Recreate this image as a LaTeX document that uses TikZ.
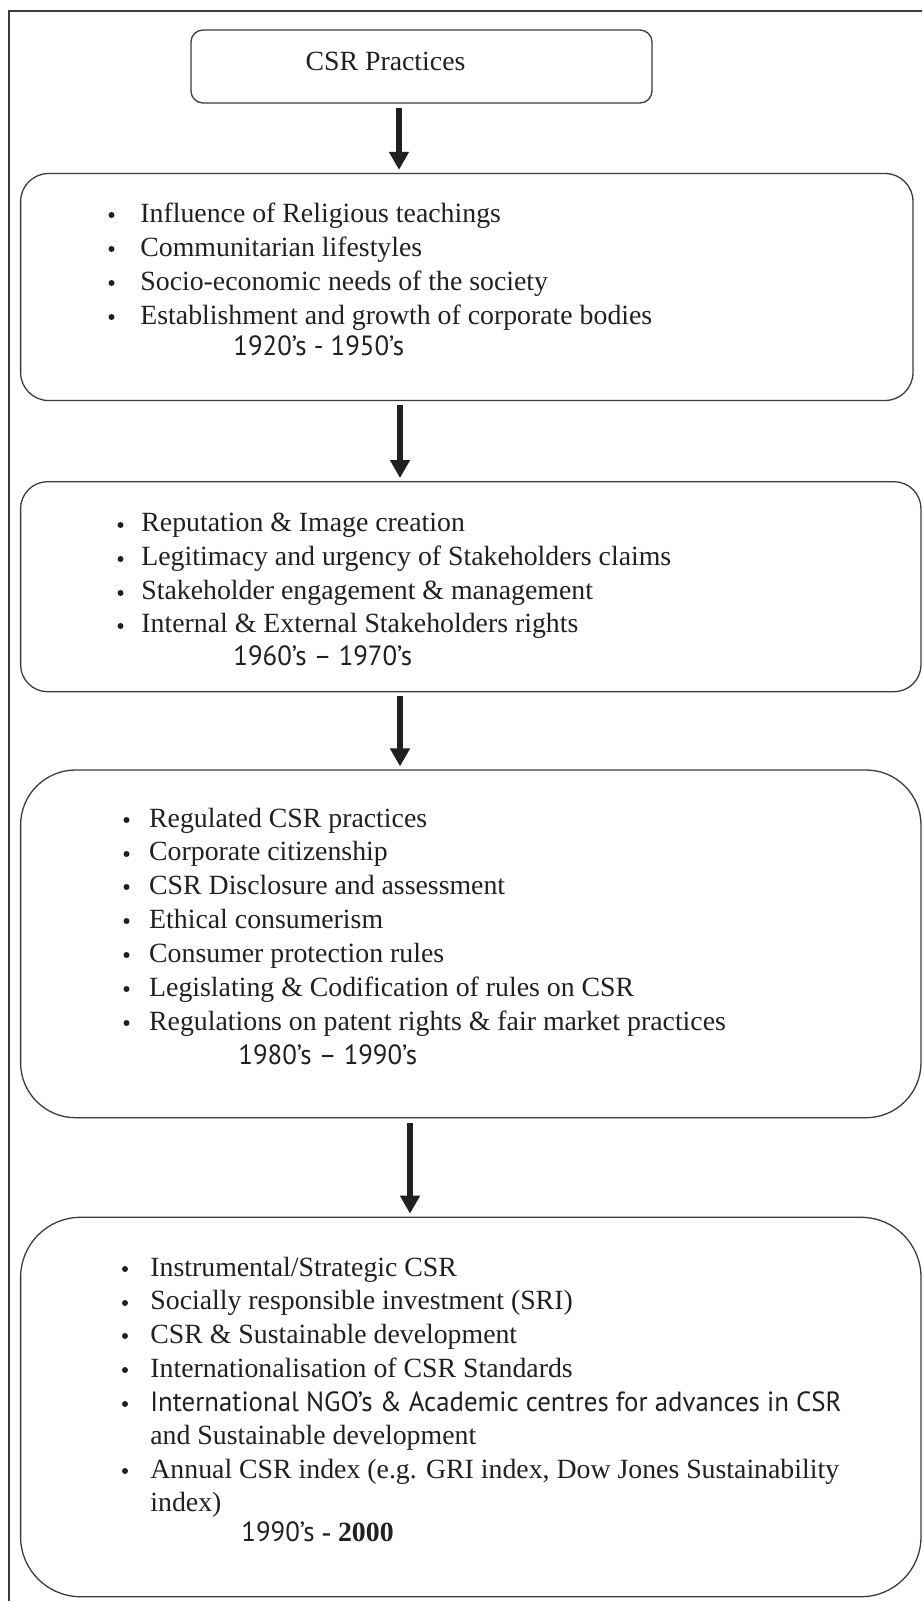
\documentclass[tikz,border=0pt]{standalone}
\usepackage{fontspec}
\setmainfont{Liberation Serif}
\newfontfamily\myr[FakeStretch=0.965]{PT Sans}
\usetikzlibrary{arrows.meta}
\definecolor{edge}{HTML}{3C3C3C}
\definecolor{ink}{HTML}{231F20}
\begin{document}
\begin{tikzpicture}[x=0.5pt,y=-0.5pt,
  font=\fontsize{13.9}{16.7}\selectfont,
  box/.style={draw=edge,line width=0.65pt,inner sep=0pt},
  txt/.style={anchor=base west,inner sep=0pt,text=ink},
  dat/.style={anchor=base west,inner sep=0pt,text=ink,font=\fontsize{13.9}{16.7}\myr},
  dot/.style={circle,fill=ink,inner sep=0pt,minimum size=3pt},
  arr/.style={draw=ink,line width=3.3pt,-{Triangle[length=9pt,width=9.5pt]},shorten <=2pt,shorten >=1.5pt}]
\useasboundingbox (0,0) rectangle (922,1601);
% outer frame
\draw[edge,line width=0.6pt] (9,1601) -- (9,11) -- (922,11);
% boxes
\node[box,rounded corners=6pt,minimum width=230.5pt,minimum height=36.5pt] (b1) at (421.5,66.5) {};
\node[box,rounded corners=14pt,minimum width=446.2pt,minimum height=113.5pt] (b2) at (466.8,287) {};
\node[box,rounded corners=13.5pt,minimum width=450.2pt,minimum height=105pt] (b3) at (470.8,586.7) {};
\node[box,rounded corners=27.5pt,minimum width=450.2pt,minimum height=173.85pt] (b4) at (470.8,943.85) {};
\node[box,rounded corners=30pt,minimum width=450.2pt,minimum height=189.7pt] (b5) at (470.8,1407) {};
% arrows
\coordinate (k1) at (399,0);
\coordinate (k2) at (400,0);
\coordinate (k3) at (400,0);
\coordinate (k4) at (410,0);
\draw[arr] (b1.south -| k1) -- (b2.north -| k1);
\draw[arr] (b2.south -| k2) -- (b3.north -| k2);
\draw[arr] (b3.south -| k3) -- (b4.north -| k3);
\draw[arr,shorten <=2.5pt] (b4.south -| k4) -- (b5.north -| k4);
% box 1
\node[inner sep=0pt,text=ink] (t1) at (385.5,61.7) {CSR Practices};
% box 2
\node[dot] (d21) at (111.5,215) {};
\node[dot] (d22) at (111.5,249) {};
\node[dot] (d23) at (111.5,283) {};
\node[dot] (d24) at (111.5,317) {};
\node[txt] (t21) at (140,222.3) {Influence of Religious teachings};
\node[txt] (t22) at (140,256.3) {Communitarian lifestyles};
\node[txt] (t23) at (140,290.7) {Socio-economic needs of the society};
\node[txt] (t24) at (140,324) {Establishment and growth of corporate bodies};
\node[dat] (y2) at (233,355.7) {1920’s - 1950’s};
% box 3
\node[dot] (d31) at (120.5,525) {};
\node[dot] (d32) at (120.5,559) {};
\node[dot] (d33) at (120.5,593) {};
\node[dot] (d34) at (120.5,626) {};
\node[txt] (t31) at (141,531.8) {Reputation \& Image creation};
\node[txt] (t32) at (141,565.5) {Legitimacy and urgency of Stakeholders claims};
\node[txt] (t33) at (141,599.1) {Stakeholder engagement \& management};
\node[txt] (t34) at (141,632.8) {Internal \& External Stakeholders rights};
\node[dat] (y3) at (233,665.5) {1960’s – 1970’s};
% box 4
\node[dot] (d41) at (126.5,820) {};
\node[dot] (d42) at (126.5,854) {};
\node[dot] (d43) at (126.5,887) {};
\node[dot] (d44) at (126.5,921) {};
\node[dot] (d45) at (126.5,955) {};
\node[dot] (d46) at (126.5,989) {};
\node[dot] (d47) at (126.5,1023) {};
\node[txt] (t41) at (148.8,827.3) {Regulated CSR practices};
\node[txt] (t42) at (148.8,860.7) {Corporate citizenship};
\node[txt] (t43) at (148.8,894) {CSR Disclosure and assessment};
\node[txt] (t44) at (148.8,928) {Ethical consumerism};
\node[txt] (t45) at (148.8,962.3) {Consumer protection rules};
\node[txt] (t46) at (148.8,996.3) {Legislating \& Codification of rules on CSR};
\node[txt] (t47) at (148.8,1030.7) {Regulations on patent rights \& fair market practices};
\node[dat] (y4) at (238,1064) {1980’s – 1990’s};
% box 5
\node[dot] (d51) at (125,1269) {};
\node[dot] (d52) at (125,1303) {};
\node[dot] (d53) at (125,1336) {};
\node[dot] (d54) at (125,1370) {};
\node[dot] (d55) at (125,1404) {};
\node[dot] (d56) at (125,1471) {};
\node[txt] (t51) at (150,1276.3) {Instrumental/Strategic CSR};
\node[txt] (t52) at (150,1309.7) {Socially responsible investment (SRI)};
\node[txt] (t53) at (150,1343) {CSR \& Sustainable development};
\node[txt] (t54) at (150,1377.3) {Internationalisation of CSR Standards};
\node[dat] (t55) at (150,1411.7) {International NGO’s \& Academic centres for advances in CSR};
\node[txt] (t56) at (150,1444) {and Sustainable development};
\node[txt] (t57) at (150,1478.3) {Annual CSR index (e.g. GRI index, Dow Jones Sustainability};
\node[txt] (t58) at (150,1511.7) {index)};
\node[dat] (y5) at (241,1541.7) {1990’s {\rmfamily\bfseries - 2000}};
\end{tikzpicture}
\end{document}
